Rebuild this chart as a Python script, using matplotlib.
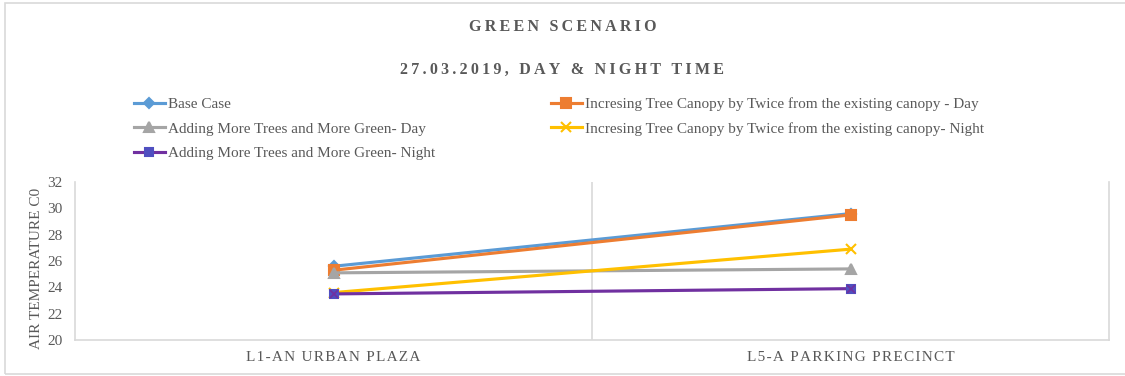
import matplotlib.pyplot as plt
from matplotlib.patches import Rectangle

plt.rcParams['font.family'] = ['Liberation Serif', 'DejaVu Serif']

categories = ['L1-AN URBAN PLAZA', 'L5-A PARKING PRECINCT']
series_names = [
    'Base Case',
    'Incresing Tree Canopy by Twice from the existing canopy - Day',
    'Adding More Trees and More Green- Day',
    'Incresing Tree Canopy by Twice from the existing canopy- Night',
    'Adding More Trees and More Green- Night',
]
base_case = [25.6, 29.6]
canopy_day = [25.3, 29.5]
green_day = [25.1, 25.4]
canopy_night = [23.6, 26.9]
green_night = [23.5, 23.9]
y_ticks = [20, 22, 24, 26, 28, 30, 32]

TEXT = '#595959'
GRID = '#d9d9d9'


def spaced(s, gap='\u200a'):
    # widen tracking by putting narrow spaces between letters
    return gap.join(s)


fig = plt.figure(figsize=(11.25, 3.76), dpi=100)
fig.patches.append(Rectangle((5 / 1125, 2 / 376), 1.2, 371 / 376, transform=fig.transFigure,
                             fill=False, edgecolor=GRID, linewidth=1.2))

ax = fig.add_axes([75 / 1125, 36 / 376, 1034 / 1125, 158 / 376])
x = list(range(len(categories)))

styles = [
    (base_case, '#5B9BD5', 'D', 5.5),
    (canopy_day, '#ED7D31', 's', 7),
    (green_day, '#A5A5A5', '^', 7),
    (canopy_night, '#FFC000', 'x', 7),
    (green_night, '#7030A0', 's', 6),
]
handles = []
for (vals, color, marker, ms), name in zip(styles, series_names):
    mfc = '#4F4FC0' if name.endswith('Green- Night') else color
    line, = ax.plot(x, vals, color=color, linewidth=2.25, marker=marker, markersize=ms,
                    markerfacecolor=mfc, markeredgecolor=mfc, markeredgewidth=1.5, label=name)
    handles.append(line)
# star-style marker: cross drawn over the purple squares
ax.plot(x, green_night, linestyle='none', marker='x', markersize=6, color='#7030A0',
        markeredgewidth=1.2)

ax.set_xlim(-0.5, 1.5)
ax.set_ylim(20, 32)
ax.set_yticks(y_ticks)
ax.set_xticks(x)
ax.set_xticklabels([spaced(c) for c in categories], fontsize=11, color=TEXT)
ax.tick_params(length=0, labelsize=11, colors=TEXT)
ax.tick_params(axis='x', pad=8)
ax.tick_params(axis='y', pad=9)
ax.axvline(0.5, color=GRID, linewidth=1.2, zorder=0)
for side in ['left', 'bottom', 'right']:
    ax.spines[side].set_color(GRID)
    ax.spines[side].set_linewidth(1.2)
ax.spines['top'].set_visible(False)
ax.set_ylabel('AIR TEMPERATURE C0', fontsize=11, color=TEXT)
ax.yaxis.set_label_coords(-0.031, 0.45)

fig.text(0.5, 1 - 27 / 376, spaced('GREEN SCENARIO', '\u2009'), ha='center', va='center',
         fontsize=11.5, fontweight='bold', color=TEXT)
fig.text(0.5, 1 - 70 / 376, spaced('27.03.2019, DAY & NIGHT TIME', '\u2009'), ha='center',
         va='center', fontsize=11.5, fontweight='bold', color=TEXT)

# row-wise legend order: matplotlib fills columns first
order = [0, 2, 4, 1, 3]
fig.legend([handles[i] for i in order], [series_names[i] for i in order],
           loc='upper left', bbox_to_anchor=(128 / 1125, 1 - 91 / 376), ncol=2,
           frameon=False, fontsize=11, labelcolor=TEXT, handlelength=2.0,
           handletextpad=0.2, columnspacing=7.6, labelspacing=0.72, borderaxespad=0)

fig.savefig('out.png', dpi=100)
